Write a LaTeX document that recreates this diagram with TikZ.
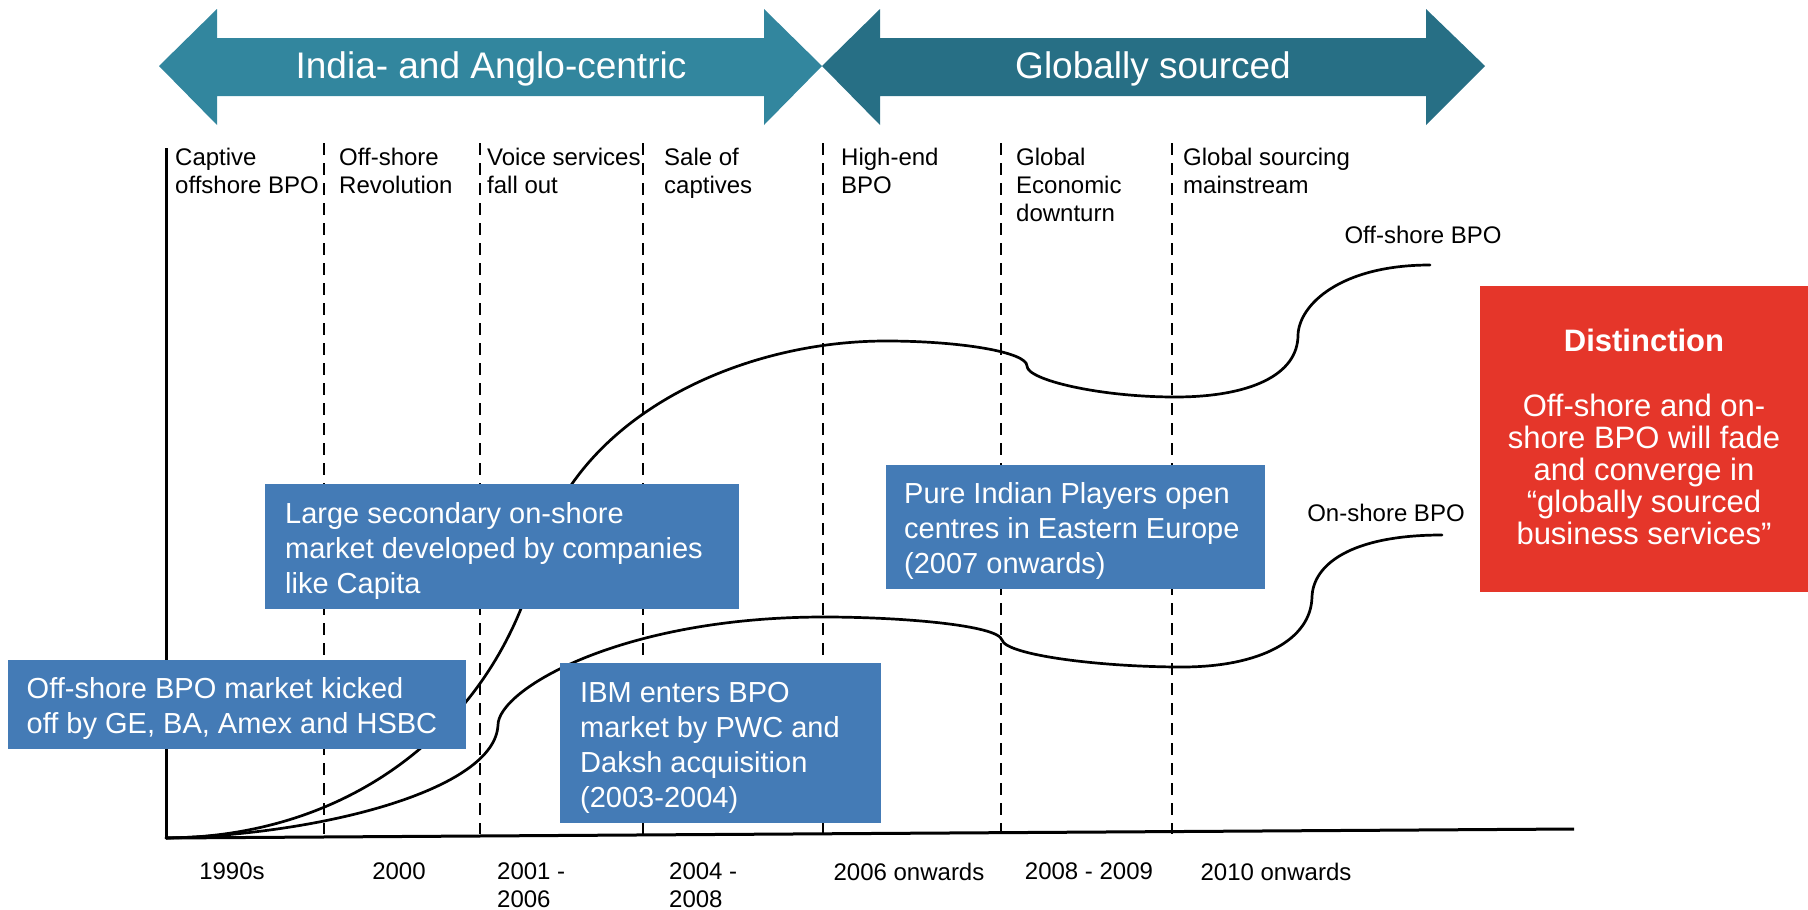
\documentclass[tikz,border=0pt]{standalone}
\usepackage{fontspec}
\setmainfont{Liberation Sans}
\definecolor{bannerA}{RGB}{50,134,158}
\definecolor{bannerB}{RGB}{39,111,133}
\definecolor{boxblue}{RGB}{68,123,182}
\definecolor{alertred}{RGB}{229,54,42}
\begin{document}
\begin{tikzpicture}[x=1pt,y=-1pt,
  curve/.style={line width=2.7pt, line cap=round},
  divider/.style={line width=2.8pt, dash pattern=on 12pt off 8pt},
  axisline/.style={line width=3pt},
  bannertext/.style={text=white, font=\fontsize{37}{44}\selectfont, inner sep=0pt, anchor=base},
  phase/.style={font=\fontsize{24}{28}\selectfont, align=left, inner sep=0pt, anchor=north west},
  period/.style={font=\fontsize{24}{28}\selectfont, align=left, inner sep=0pt},
  note/.style={fill=boxblue, draw=none, inner sep=0pt, anchor=north west},
  notetext/.style={text=white, font=\fontsize{29}{35}\selectfont, align=left, inner sep=0pt, anchor=north west},
  curvelabel/.style={font=\fontsize{24}{28}\selectfont, inner sep=0pt, anchor=base}
]
\useasboundingbox (0,0) rectangle (1808,910);

% era banners
\fill[bannerA] (159,66) -- (217,9) -- (217,38) -- (764,38) -- (764,9) -- (822,66)
  -- (764,125) -- (764,96) -- (217,96) -- (217,125) -- cycle;
\fill[bannerB] (822,66) -- (880,9) -- (880,38) -- (1426,38) -- (1426,9) -- (1485,66)
  -- (1426,125) -- (1426,96) -- (880,96) -- (880,125) -- cycle;
\node[bannertext] (eraA) at (491,78.5) {India- and Anglo-centric};
\node[bannertext] (eraB) at (1153,78.5) {Globally sourced};

% axes
\coordinate (origin) at (166,838);
\coordinate (ytop) at (166,148);
\coordinate (xend) at (1574,829);
\draw[axisline] (ytop) -- (origin);
\draw[axisline] (origin) -- (xend);

% period dividers
\foreach \x/\n in {324/d1,480/d2,643/d3,823/d4,1001/d5,1172/d6}{
  \coordinate (\n top) at (\x,143);
  \coordinate (\n bot) at (\x,834);
  \draw[divider] (\n top) -- (\n bot);
}

% phase headings
\node[phase] (h1) at (175,148) {Captive\\offshore BPO};
\node[phase] (h2) at (339,148) {Off-shore\\Revolution};
\node[phase] (h3) at (487,148) {Voice services\\fall out};
\node[phase] (h4) at (664,148) {Sale of\\captives};
\node[phase] (h5) at (841,148) {High-end\\BPO};
\node[phase] (h6) at (1016,148) {Global\\Economic\\downturn};
\node[phase] (h7) at (1183,148) {Global sourcing\\mainstream};

% off-shore BPO curve
\draw[curve] (origin) .. controls (360,837) and (497,717) .. (537,560)
  .. controls (572,420) and (735,341) .. (886,341)
  .. controls (960,341) and (1027,352) .. (1027,366)
  .. controls (1027,380) and (1100,397) .. (1175,397)
  .. controls (1250,397) and (1298,375) .. (1298,335)
  .. controls (1299,305) and (1340,265) .. (1430,265);

% on-shore BPO curve
\draw[curve] (origin) .. controls (320,835) and (495,790) .. (498,725)
  .. controls (498,690) and (620,617) .. (824,617)
  .. controls (900,617) and (998,625) .. (1002,640)
  .. controls (1006,655) and (1100,667) .. (1182,667)
  .. controls (1260,667) and (1311,640) .. (1312,597)
  .. controls (1313,565) and (1350,535) .. (1442,535);

\node[curvelabel] (offlabel) at (1423,243.5) {Off-shore BPO};
\node[curvelabel] (onlabel) at (1386,521.5) {On-shore BPO};

% event notes
\node[note, minimum width=458pt, minimum height=89pt] (n1) at (8,660) {};
\node[notetext] (t1) at (26.5,677) {Off-shore BPO market kicked\\off by GE, BA, Amex and HSBC};

\node[note, minimum width=474pt, minimum height=125pt] (n2) at (265,484) {};
\node[notetext] (t2) at (285,502) {Large secondary on-shore\\market developed by companies\\like Capita};

\node[note, minimum width=321pt, minimum height=160pt] (n3) at (560,663) {};
\node[notetext] (t3) at (580,682) {IBM enters BPO\\market by PWC and\\Daksh acquisition\\(2003-2004)};

\node[note, minimum width=379pt, minimum height=124pt] (n4) at (886,465) {};
\node[notetext] (t4) at (904,482) {Pure Indian Players open\\centres in Eastern Europe\\(2007 onwards)};

% conclusion panel
\node[fill=alertred, draw=none, inner sep=0pt, anchor=north west, minimum width=328pt, minimum height=306pt] (red) at (1480,286) {};
\node[text=white, font=\fontsize{31}{36}\selectfont\bfseries, inner sep=0pt, anchor=base] (rtitle) at (1644,351) {Distinction};
\node[text=white, font=\fontsize{31}{32}\selectfont, align=center, inner sep=0pt, anchor=north] (rbody) at (1644,394) {Off-shore and on-\\shore BPO will fade\\and converge in\\“globally sourced\\business services”};

% period labels
\node[period, anchor=north] (p1) at (232,862.5) {1990s};
\node[period, anchor=north] (p2) at (399,862.5) {2000};
\node[period, anchor=north west] (p3) at (497,862.5) {2001 -\\2006};
\node[period, anchor=north west] (p4) at (669,862.5) {2004 -\\2008};
\node[period, anchor=north] (p5) at (909,862.5) {2006 onwards};
\node[period, anchor=north] (p6) at (1089,862.5) {2008 - 2009};
\node[period, anchor=north] (p7) at (1276,862.5) {2010 onwards};
\end{tikzpicture}
\end{document}
